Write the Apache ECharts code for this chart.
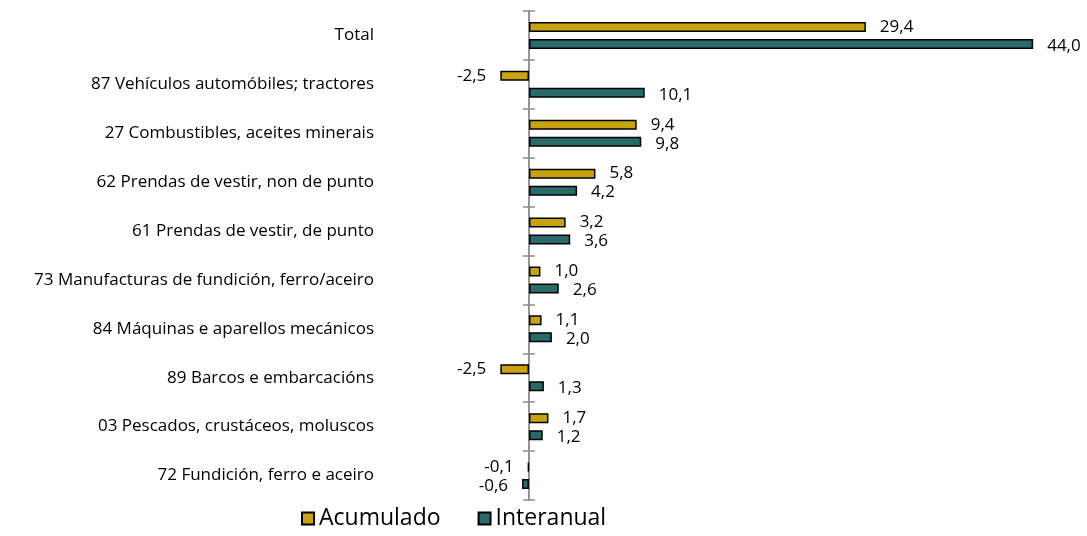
<!DOCTYPE html>
<html>
<head>
<meta charset="utf-8">
<script src="https://cdn.jsdelivr.net/npm/echarts@6/dist/echarts.min.js"></script>
<style>
  html, body { margin: 0; padding: 0; background: #fff; }
  #chart { width: 1087px; height: 536px; }
</style>
</head>
<body>
<div id="chart"></div>
<script>
var categories = [
  "Total",
  "87 Vehículos automóbiles; tractores",
  "27 Combustibles, aceites minerais",
  "62 Prendas de vestir, non de punto",
  "61 Prendas de vestir, de punto",
  "73 Manufacturas de fundición, ferro/aceiro",
  "84 Máquinas e aparellos mecánicos",
  "89 Barcos e embarcacións",
  "03 Pescados, crustáceos, moluscos",
  "72 Fundición, ferro e aceiro"
];
var acumulado = [29.4, -2.5, 9.4, 5.8, 3.2, 1.0, 1.1, -2.5, 1.7, -0.1];
var interanual = [44.0, 10.1, 9.8, 4.2, 3.6, 2.6, 2.0, 1.3, 1.2, -0.6];

var chart = echarts.init(document.getElementById("chart"));

function fmt(v) {
  return v.toFixed(1).replace(".", ",");
}

function toItems(values) {
  return values.map(function (v) {
    return {
      value: v,
      label: { position: v < 0 ? "left" : "right" }
    };
  });
}

var axisGray = "#8c8c8c";
var font = "Open Sans";

// one axis carries the names, two more draw the zero line with ticks on both sides
function tickAxis(inside) {
  return {
    type: "category",
    data: categories,
    inverse: true,
    position: "left",
    axisLine: { show: true, onZero: true, onZeroAxisIndex: 0, lineStyle: { color: axisGray, width: 1.5 } },
    axisTick: { show: true, inside: inside, length: 6, lineStyle: { color: axisGray, width: 1.5 } },
    axisLabel: { show: false }
  };
}

var option = {
  animation: false,
  grid: { left: 380, right: 8, top: 11, bottom: 36 },
  legend: {
    bottom: 1,
    left: 296,
    icon: "rect",
    itemWidth: 12,
    itemHeight: 12,
    itemGap: 37,
    textStyle: { fontSize: 23, color: "#000", fontFamily: font }
  },
  xAxis: {
    type: "value",
    min: -13,
    max: 48,
    show: false
  },
  yAxis: [
    {
      type: "category",
      data: categories,
      inverse: true,
      position: "left",
      axisLine: { show: false, onZero: false },
      axisTick: { show: false },
      axisLabel: { margin: 6, fontSize: 17, color: "#000", fontFamily: font }
    },
    tickAxis(false),
    tickAxis(true)
  ],
  series: [
    {
      name: "Acumulado",
      type: "bar",
      data: toItems(acumulado),
      barWidth: 10,
      barGap: "70%",
      itemStyle: { color: "#c9a30f", borderColor: "#000", borderWidth: 1.5 },
      label: {
        show: true,
        distance: 14,
        offset: [0, 0],
        fontSize: 17,
        color: "#000",
        fontFamily: font,
        formatter: function (p) { return fmt(p.value); }
      }
    },
    {
      name: "Interanual",
      type: "bar",
      data: toItems(interanual),
      barWidth: 10,
      itemStyle: { color: "#2a6a6b", borderColor: "#000", borderWidth: 1.5 },
      label: {
        show: true,
        distance: 14,
        offset: [0, 2],
        fontSize: 17,
        color: "#000",
        fontFamily: font,
        formatter: function (p) { return fmt(p.value); }
      }
    }
  ]
};

chart.setOption(option);
</script>
</body>
</html>
